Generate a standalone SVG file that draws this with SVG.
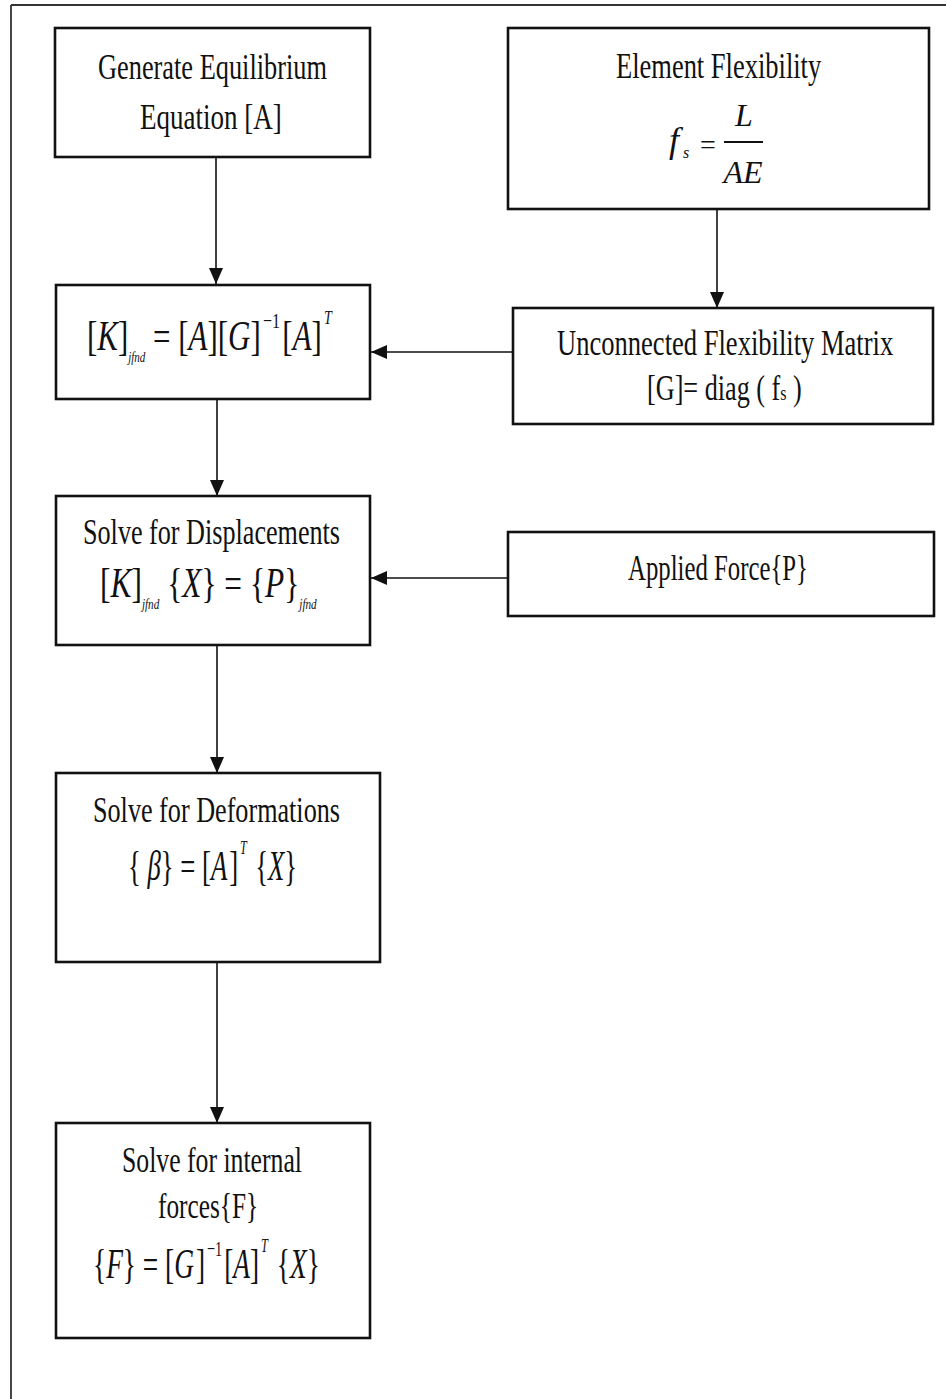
<svg xmlns="http://www.w3.org/2000/svg" width="946" height="1399" viewBox="0 0 946 1399">
<style>
.box{fill:#fff;stroke:#111;stroke-width:2.6}
.t{font-family:"Liberation Serif","Times New Roman",serif;fill:#111}
.i{font-style:italic}
.c{stroke:#111;stroke-width:1.6;fill:none}
</style>
<defs>
<marker id="ah" markerUnits="userSpaceOnUse" markerWidth="16" markerHeight="14" refX="16" refY="7" orient="auto">
<path d="M0,0 L16,7 L0,14 Z" fill="#111"/>
</marker>
</defs>
<rect width="946" height="1399" fill="#fff"/>
<g id="frame">
<path d="M11,5 H946 M11,5 V1399" stroke="#333" stroke-width="1.8" fill="none"/>
</g>
<g id="connectors">
<path class="c" d="M216,158 V284" marker-end="url(#ah)"/>
<path class="c" d="M717,209 V308" marker-end="url(#ah)"/>
<path class="c" d="M513,352 H371" marker-end="url(#ah)"/>
<path class="c" d="M217,400 V496" marker-end="url(#ah)"/>
<path class="c" d="M508,578 H371" marker-end="url(#ah)"/>
<path class="c" d="M217,645 V773" marker-end="url(#ah)"/>
<path class="c" d="M217,962 V1123" marker-end="url(#ah)"/>
</g>
<g id="n-equilibrium">
<rect class="box" x="55" y="28" width="315" height="129"/>
<g transform="translate(98,79) scale(0.72,1)"><text class="t" font-size="36" textLength="318" lengthAdjust="spacingAndGlyphs">Generate Equilibrium</text></g>
<g transform="translate(140,129) scale(0.72,1)"><text class="t" font-size="36" textLength="197" lengthAdjust="spacingAndGlyphs">Equation [A]</text></g>
</g>
<g id="n-element">
<rect class="box" x="508" y="28" width="421" height="181"/>
<g transform="translate(616,78) scale(0.72,1)"><text class="t" font-size="36" textLength="285" lengthAdjust="spacingAndGlyphs">Element Flexibility</text></g>
<text class="t i" x="669" y="152" font-size="36">f</text>
<text class="t i" x="683" y="158" font-size="16">s</text>
<text class="t" x="700" y="154" font-size="28">=</text>
<line x1="724" y1="142" x2="763" y2="142" stroke="#111" stroke-width="2"/>
<text class="t i" x="744" y="126" font-size="32" text-anchor="middle">L</text>
<text class="t i" x="743" y="183" font-size="32" text-anchor="middle">AE</text>
</g>
<g id="n-stiffness">
<rect class="box" x="56" y="285" width="314" height="114"/>
<g transform="translate(87,350) scale(0.72,1)"><text class="t" font-size="42" textLength="340" lengthAdjust="spacingAndGlyphs">[<tspan class="i">K</tspan>]<tspan class="i" font-size="15" dy="12">jfnd</tspan><tspan dy="-12"> = [</tspan><tspan class="i">A</tspan>][<tspan class="i">G</tspan>]<tspan font-size="22" dy="-22" dx="3">−1</tspan><tspan dy="22" dx="3">[</tspan><tspan class="i">A</tspan>]<tspan class="i" font-size="19" dy="-26" dx="3">T</tspan></text></g>
</g>
<g id="n-unconnected">
<rect class="box" x="513" y="308" width="420" height="116"/>
<g transform="translate(557,355) scale(0.72,1)"><text class="t" font-size="36" textLength="467" lengthAdjust="spacingAndGlyphs">Unconnected Flexibility Matrix</text></g>
<g transform="translate(647,400) scale(0.72,1)"><text class="t" font-size="36" textLength="215" lengthAdjust="spacingAndGlyphs">[G]= diag ( f<tspan font-size="22">s</tspan> )</text></g>
</g>
<g id="n-displacements">
<rect class="box" x="56" y="496" width="314" height="149"/>
<g transform="translate(83,544) scale(0.72,1)"><text class="t" font-size="36" textLength="357" lengthAdjust="spacingAndGlyphs">Solve for Displacements</text></g>
<g transform="translate(100,597) scale(0.72,1)"><text class="t" font-size="42" textLength="301" lengthAdjust="spacingAndGlyphs">[<tspan class="i">K</tspan>]<tspan class="i" font-size="15" dy="12">jfnd</tspan><tspan dy="-12"> {</tspan><tspan class="i">X</tspan>} = {<tspan class="i">P</tspan>}<tspan class="i" font-size="15" dy="12">jfnd</tspan></text></g>
</g>
<g id="n-applied">
<rect class="box" x="508" y="532" width="426" height="84"/>
<g transform="translate(628,580) scale(0.72,1)"><text class="t" font-size="36" textLength="250" lengthAdjust="spacingAndGlyphs">Applied Force{P}</text></g>
</g>
<g id="n-deformations">
<rect class="box" x="56" y="773" width="324" height="189"/>
<g transform="translate(93,822) scale(0.72,1)"><text class="t" font-size="36" textLength="343" lengthAdjust="spacingAndGlyphs">Solve for Deformations</text></g>
<g transform="translate(128,880) scale(0.72,1)"><text class="t" font-size="42" textLength="235" lengthAdjust="spacingAndGlyphs">{ <tspan class="i">β</tspan>} = [<tspan class="i">A</tspan><tspan dx="3">]</tspan><tspan class="i" font-size="19" dy="-26" dx="3">T</tspan><tspan dy="26" dx="3"> {</tspan><tspan class="i">X</tspan>}</text></g>
</g>
<g id="n-internal">
<rect class="box" x="56" y="1123" width="314" height="215"/>
<g transform="translate(122,1172) scale(0.72,1)"><text class="t" font-size="36" textLength="250" lengthAdjust="spacingAndGlyphs">Solve for internal</text></g>
<g transform="translate(158,1218) scale(0.72,1)"><text class="t" font-size="36" textLength="139" lengthAdjust="spacingAndGlyphs">forces{F}</text></g>
<g transform="translate(93,1278) scale(0.72,1)"><text class="t" font-size="42" textLength="315" lengthAdjust="spacingAndGlyphs">{<tspan class="i">F</tspan>} = [<tspan class="i">G</tspan><tspan dx="3">]</tspan><tspan font-size="22" dy="-22" dx="3">−1</tspan><tspan dy="22" dx="3">[</tspan><tspan class="i">A</tspan>]<tspan class="i" font-size="19" dy="-26" dx="3">T</tspan><tspan dy="26" dx="3"> {</tspan><tspan class="i">X</tspan>}</text></g>
</g>
</svg>
